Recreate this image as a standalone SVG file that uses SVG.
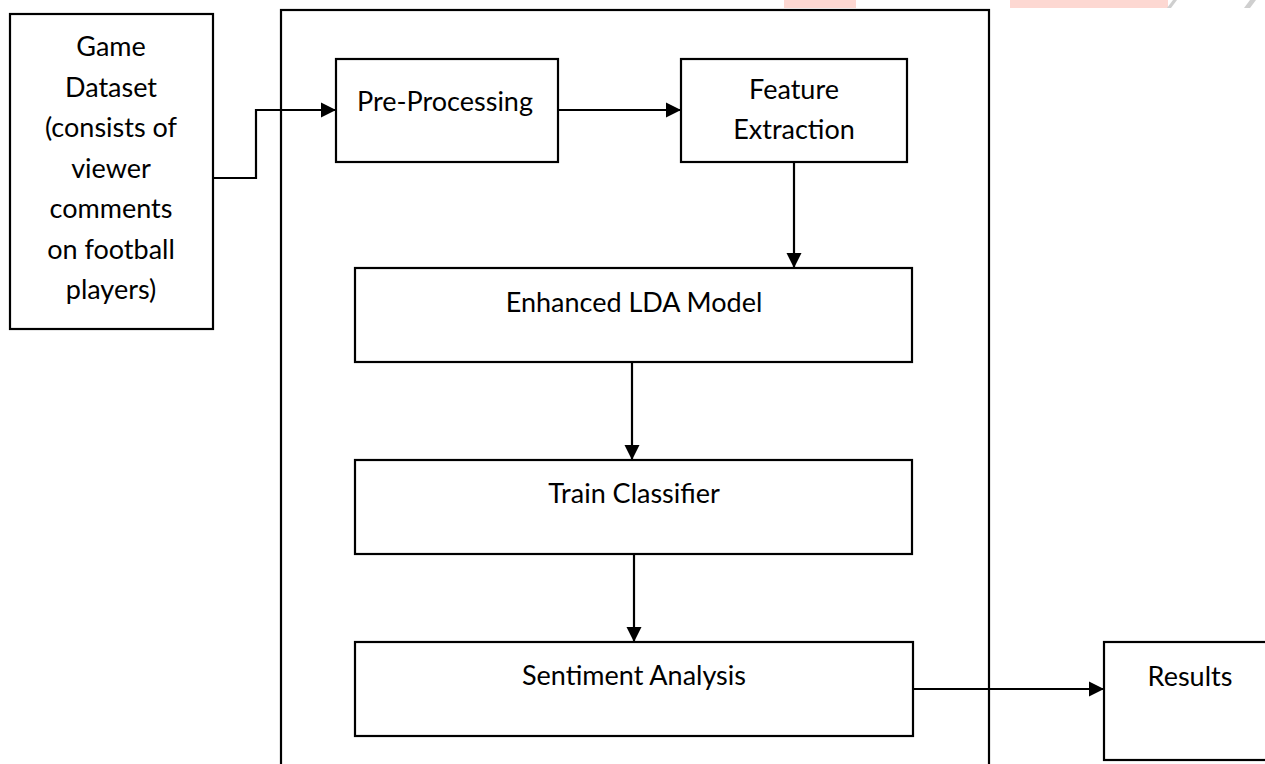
<svg xmlns="http://www.w3.org/2000/svg" width="1265" height="764" viewBox="0 0 1265 764">
  <style>
    .box { fill: #ffffff; stroke: #000000; stroke-width: 2.2; }
    .frame { fill: none; stroke: #000000; stroke-width: 2.2; }
    .link { fill: none; stroke: #000000; stroke-width: 2.2; }
    .label { font-family: Lato, "Liberation Sans", sans-serif; font-size: 27px; fill: #000000; text-anchor: middle; }
  </style>
  <defs>
    <marker id="arrow" markerUnits="userSpaceOnUse" markerWidth="15" markerHeight="16" refX="15" refY="8" orient="auto">
      <path d="M0,0.5 L15,8 L0,15.5 Z" fill="#000000"/>
    </marker>
  </defs>

  <rect width="1265" height="764" fill="#ffffff"/>

  <!-- faint banner remnants along the top edge -->
  <g id="banner">
    <rect x="784" y="0" width="72" height="8" fill="#fdd8d2"/>
    <rect x="1010" y="0" width="158" height="8" fill="#fdd8d2"/>
    <polygon points="1167,8 1173,0 1177,0 1171,8" fill="#cfcfcf"/>
    <polygon points="1244,8 1250,0 1256,0 1250,8" fill="#cfcfcf"/>
  </g>

  <!-- processing frame -->
  <g id="frame">
    <rect class="frame" x="281" y="10" width="708" height="790"/>
  </g>

  <g id="dataset">
    <rect class="box" x="10" y="14" width="203" height="315"/>
    <text class="label" x="111" y="56">Game</text>
    <text class="label" x="111" y="96.5">Dataset</text>
    <text class="label" x="111" y="137">(consists of</text>
    <text class="label" x="111" y="177.5">viewer</text>
    <text class="label" x="111" y="218">comments</text>
    <text class="label" x="111" y="258.5">on football</text>
    <text class="label" x="111" y="299">players)</text>
  </g>

  <g id="preprocessing">
    <rect class="box" x="336" y="59" width="222" height="103"/>
    <text class="label" x="445" y="111">Pre-Processing</text>
  </g>

  <g id="feature-extraction">
    <rect class="box" x="681" y="59" width="226" height="103"/>
    <text class="label" x="794" y="99">Feature</text>
    <text class="label" x="794" y="139">Extraction</text>
  </g>

  <g id="lda-model">
    <rect class="box" x="355" y="268" width="557" height="94"/>
    <text class="label" x="634" y="312">Enhanced LDA Model</text>
  </g>

  <g id="train-classifier">
    <rect class="box" x="355" y="460" width="557" height="94"/>
    <text class="label" x="634" y="503">Train Classifier</text>
  </g>

  <g id="sentiment-analysis">
    <rect class="box" x="355" y="642" width="558" height="94"/>
    <text class="label" x="634" y="685">Sentiment Analysis</text>
  </g>

  <g id="results">
    <rect class="box" x="1104" y="642" width="200" height="118"/>
    <text class="label" x="1190" y="686">Results</text>
  </g>

  <g id="connectors">
    <path class="link" d="M213,178 H256 V110 H336" marker-end="url(#arrow)"/>
    <path class="link" d="M558,110 H681" marker-end="url(#arrow)"/>
    <path class="link" d="M794,162 V268" marker-end="url(#arrow)"/>
    <path class="link" d="M632,362 V460" marker-end="url(#arrow)"/>
    <path class="link" d="M634,554 V642" marker-end="url(#arrow)"/>
    <path class="link" d="M913,689 H1104" marker-end="url(#arrow)"/>
  </g>
</svg>
